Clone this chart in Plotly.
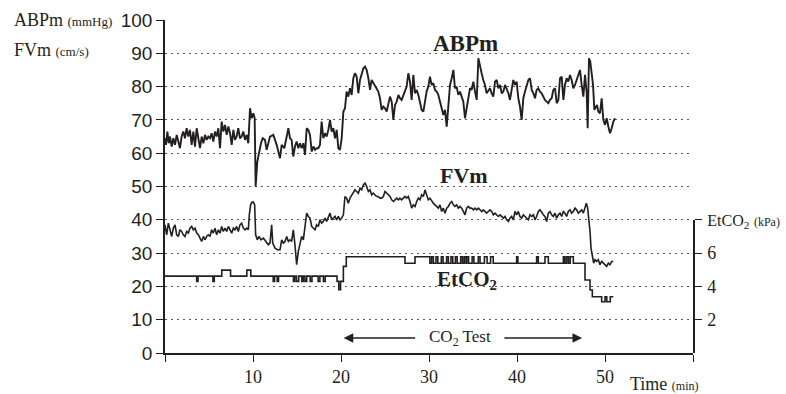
import plotly.graph_objects as go

# ---------------- data ----------------
abp_t = [0, 0.11, 0.27, 0.42, 0.57, 0.76, 0.95, 1.14, 1.33, 1.52, 1.70, 1.89, 2.08, 2.27, 2.46, 2.65, 2.84,
         3.03, 3.22, 3.41, 3.60, 3.79, 3.98, 4.17, 4.36, 4.55, 4.73, 4.92, 5.11, 5.30, 5.49, 5.68, 5.87,
         6.06, 6.25, 6.44, 6.63, 6.82, 7.01, 7.20, 7.39, 7.58, 7.77, 7.95, 8.14, 8.33, 8.52, 8.71, 8.90,
         9.09, 9.28, 9.47, 9.66, 9.85, 10.04, 10.19, 10.30, 10.49, 10.68, 10.91, 11.10, 11.36, 11.55,
         11.93, 12.31, 12.69, 13.07, 13.26, 13.56, 13.83, 14.02, 14.20, 14.39, 14.58, 14.77, 14.96, 15.15,
         15.34, 15.53, 15.72, 15.91, 16.10, 16.29, 16.48, 16.67, 16.86, 17.05, 17.23, 17.42, 17.61, 17.80,
         17.99, 18.18, 18.37, 18.56, 18.75, 18.94, 19.13, 19.32, 19.51, 19.70, 19.89, 20.08, 20.27, 20.45,
         20.64, 20.83, 21.02, 21.21, 21.40, 21.59, 21.78, 21.97, 22.16, 22.35, 22.54, 22.73, 22.92, 23.11,
         23.30, 23.48, 23.67, 23.86, 24.05, 24.24, 24.43, 24.62, 24.81, 25.00, 25.19, 25.38, 25.57, 25.76,
         25.95, 26.14, 26.33, 26.52, 26.70, 26.89, 27.08, 27.27, 27.46, 27.65, 27.84, 28.03, 28.22, 28.41,
         28.60, 28.79, 28.98, 29.17, 29.36, 29.55, 29.73, 29.92, 30.11, 30.30, 30.49, 30.68, 30.87, 31.06,
         31.25, 31.44, 31.63, 31.82, 32.01, 32.20, 32.39, 32.58, 32.77, 32.95, 33.14, 33.33, 33.52, 33.71,
         33.90, 34.09, 34.28, 34.47, 34.66, 34.85, 35.04, 35.23, 35.42, 35.61, 35.80, 35.98, 36.17, 36.36,
         36.55, 36.74, 36.93, 37.12, 37.31, 37.50, 37.69, 37.88, 38.07, 38.26, 38.45, 38.64, 38.83, 39.02,
         39.20, 39.39, 39.58, 39.77, 39.96, 40.15, 40.34, 40.53, 40.72, 40.91, 41.10, 41.29, 41.48, 41.67,
         41.86, 42.05, 42.23, 42.42, 42.61, 42.80, 42.99, 43.18, 43.37, 43.56, 43.75, 43.94, 44.13, 44.32,
         44.51, 44.70, 44.89, 45.08, 45.27, 45.45, 45.64, 45.83, 46.02, 46.21, 46.40, 46.59, 46.78, 46.97,
         47.16, 47.35, 47.54, 47.73, 47.92, 48.03, 48.18, 48.33, 48.48, 48.64, 48.79, 48.94, 49.09, 49.24,
         49.43, 49.62, 49.81, 50.00, 50.19, 50.38, 50.57, 50.76, 50.95, 51.14]
abp_v = [64.5, 62.5, 66.5, 63, 65, 62, 64.5, 62.5, 65.5, 63.5, 61.5, 65, 66.5, 64.5, 67.5, 65, 67,
         62.5, 66.5, 62, 67.5, 64.5, 61.5, 65, 63, 65.5, 64, 65, 64.5, 66, 63.5, 66.5, 65,
         67.5, 61.5, 69.5, 66.5, 68.5, 65.5, 68, 66, 62.5, 67, 64, 65, 67.5, 64.5, 65, 66.5,
         64, 65.5, 63, 73.5, 70.5, 72, 70.5, 50, 57.5, 60.5, 63, 64.5, 64, 61,
         65, 65.5, 62.5, 58.5, 62.5, 61.5, 64.5, 67.5, 64.5, 64, 59, 62, 63.5, 61.5,
         63, 61.5, 63, 59.5, 67.5, 67, 65.5, 60.5, 62, 61, 61.5, 61.5, 62.5, 69.5,
         64.5, 66, 65, 67, 70, 66.5, 67.5, 64.5, 67, 61.5, 61, 64.5, 72.5, 73.5,
         78.5, 77, 79.5, 77.5, 82.5, 84, 83, 78, 82, 83.5, 85.5, 86, 85, 82.5,
         79, 82, 81, 80.5, 79.5, 78.5, 76.5, 73, 74, 73.5, 72.5, 74.5, 77, 75.5,
         70, 74.5, 75.5, 77.5, 76.5, 76, 77.5, 79, 80, 84, 81.5, 76, 83.5, 78,
         79, 77.5, 75, 73, 72.5, 75.5, 78.5, 80, 83, 80.5, 81, 79, 78.5, 77.5,
         75, 73.5, 71.5, 73, 68, 75.5, 80.5, 82.5, 85, 79.5, 80, 77.5, 78.5, 77,
         75.5, 70.5, 74, 77.5, 79.5, 79, 81.5, 78.5, 76, 88.5, 85.5, 84, 82, 80.5,
         78, 79, 79.5, 78, 77, 81.5, 82, 79.5, 80.5, 78, 78.5, 80.5, 79.5, 78,
         76, 78.5, 82, 80.5, 81.5, 76.5, 74, 70, 76.5, 78.5, 80.5, 82, 82.5, 79,
         78, 76.5, 79, 79.5, 78.5, 78, 77, 76, 75.5, 75, 76, 76.5, 79, 79.5,
         75, 76, 82.5, 83, 76, 80.5, 82.5, 81.5, 83.5, 82, 79.5, 80.5, 82, 83.5,
         85, 80.5, 77, 83.5, 78, 67.5, 88.5, 87.5, 84.5, 80.5, 73, 74, 74.5, 72.5,
         72, 76.5, 70, 68.5, 70.5, 68, 66, 67.5, 69.5, 70.5]

fv_t = [0, 0.19, 0.38, 0.57, 0.76, 0.95, 1.14, 1.33, 1.52, 1.70, 1.89, 2.08, 2.27, 2.46, 2.65, 2.84,
        3.03, 3.22, 3.41, 3.60, 3.79, 3.98, 4.17, 4.36, 4.55, 4.73, 4.92, 5.11, 5.30, 5.49, 5.68, 5.87,
        6.06, 6.25, 6.44, 6.63, 6.82, 7.01, 7.20, 7.39, 7.58, 7.77, 7.95, 8.14, 8.33, 8.52, 8.71, 8.90,
        9.09, 9.28, 9.47, 9.58, 9.73, 9.88, 10.04, 10.19, 10.30, 10.49, 10.68, 10.91, 11.17, 11.48, 11.74,
        11.93, 12.12, 12.24, 12.50, 12.77, 13.07, 13.26, 13.45, 13.64, 13.83, 14.02, 14.20, 14.39, 14.58,
        14.77, 14.96, 15.15, 15.34, 15.53, 15.72, 15.91, 16.10, 16.29, 16.48, 16.67, 16.86, 17.05, 17.23,
        17.42, 17.61, 17.80, 17.99, 18.18, 18.37, 18.56, 18.75, 18.94, 19.13, 19.32, 19.51, 19.70, 19.89,
        20.08, 20.27, 20.45, 20.64, 20.83, 21.02, 21.21, 21.40, 21.59, 21.78, 21.97, 22.16, 22.35, 22.54,
        22.73, 22.92, 23.11, 23.30, 23.48, 23.67, 23.86, 24.05, 24.24, 24.43, 24.62, 24.81, 25.00, 25.19,
        25.38, 25.57, 25.76, 25.95, 26.14, 26.33, 26.52, 26.70, 26.89, 27.08, 27.27, 27.46, 27.65, 27.84,
        28.03, 28.22, 28.41, 28.60, 28.79, 28.98, 29.17, 29.36, 29.55, 29.73, 29.92, 30.11, 30.30, 30.49,
        30.68, 30.87, 31.06, 31.25, 31.44, 31.63, 31.82, 32.01, 32.20, 32.39, 32.58, 32.77, 32.95, 33.14,
        33.33, 33.52, 33.71, 33.90, 34.09, 34.28, 34.47, 34.66, 34.85, 35.04, 35.23, 35.42, 35.61, 35.80,
        35.98, 36.17, 36.36, 36.55, 36.74, 36.93, 37.12, 37.31, 37.50, 37.69, 37.88, 38.07, 38.26, 38.45,
        38.64, 38.83, 39.02, 39.20, 39.39, 39.58, 39.77, 39.96, 40.15, 40.34, 40.53, 40.72, 40.91, 41.10,
        41.29, 41.48, 41.67, 41.86, 42.05, 42.23, 42.42, 42.61, 42.80, 42.99, 43.18, 43.37, 43.56, 43.75,
        43.94, 44.13, 44.32, 44.51, 44.70, 44.89, 45.08, 45.27, 45.45, 45.64, 45.83, 46.02, 46.21, 46.40,
        46.59, 46.78, 46.97, 47.16, 47.35, 47.54, 47.73, 47.88, 48.03, 48.18, 48.30, 48.41, 48.56, 48.71,
        48.86, 49.05, 49.24, 49.43, 49.62, 49.81, 50.00, 50.19, 50.38, 50.57, 50.76, 50.95]
fv_v = [38.5, 35.5, 39, 37, 35, 37.5, 38.5, 35.5, 35, 37, 36.5, 35.5, 35, 36.5, 36, 37.5,
        38, 37, 37.5, 36, 35.5, 34.5, 33.5, 35, 34, 35, 35.5, 35, 37, 36, 37.5, 35.5,
        37, 36, 38, 36.5, 37.5, 36.5, 38, 37, 36, 37.5, 37, 38, 36.5, 38.5, 39, 37.5,
        37, 37.5, 37, 41.5, 44.5, 45.3, 45.3, 44.5, 35.5, 34, 35, 34, 34.5, 33.5, 32.5,
        33, 38.5, 33, 31.5, 31, 31, 34, 33, 33.5, 35, 33.5, 34, 33.5, 37,
        32.5, 26.5, 30.5, 33, 35, 34, 37.5, 42, 41, 40.5, 38, 37.5, 37, 38.5,
        38, 40, 39, 39.5, 40.5, 39.5, 41, 42, 40, 40.5, 41, 40, 41, 40,
        40.5, 41.5, 47, 46.5, 45, 46.5, 47.5, 48, 49, 48.5, 48, 49.5, 49, 50.5,
        51, 50, 48.5, 49, 47.5, 48, 47.5, 47, 47, 46.5, 46.5, 47, 48.5, 48,
        47.5, 47, 46, 45.5, 46, 46.5, 46, 46.5, 46, 46.5, 47, 46.5, 47, 45.5,
        43.5, 44.5, 44, 45.5, 46.5, 46, 47.5, 47, 49, 47.5, 46, 46.5, 45.5, 45,
        44.5, 44, 43.5, 44.5, 42.5, 43.5, 42, 43.5, 44, 45, 45.5, 44.5, 44, 44.5,
        43.5, 44, 43.5, 42.5, 41.5, 43.5, 44, 43.5, 43.5, 43, 43.5, 43, 43.5, 43,
        42.5, 43, 42.5, 42, 42.5, 43, 42.5, 41.5, 42, 41.5, 41, 41.5, 41, 40.5,
        41, 40, 39.5, 40.5, 41, 40, 42.5, 41.5, 42.5, 41, 40.5, 41.5, 41, 40.5,
        40, 41.5, 41, 41.5, 40, 41, 42.5, 43, 42, 41.5, 41, 39.5, 42, 42.5,
        41.5, 41, 42, 40.5, 41.5, 42, 41, 42.5, 42, 41, 42.5, 43, 42, 42.5,
        43.5, 43, 42, 42.5, 43, 42, 43.5, 45, 43.5, 40.5, 36.5, 31.5, 28.5, 27,
        28, 27.5, 28, 26.5, 27.5, 27, 26.5, 26, 27, 26.5, 27.5, 27.5]

# EtCO2 (kPa), step changes
et_t = [0, 3.60, 3.75, 5.45, 5.60, 6.45, 7.45, 9.30, 9.75, 12.30, 12.45, 12.75, 12.90,
        14.60, 14.75, 14.95, 15.20, 15.55, 15.70, 15.90, 16.10, 16.50, 16.70, 17.40, 17.60,
        18.00, 18.20, 19.55, 19.75, 19.95, 20.27, 20.60, 27.27, 28.41,
        30.10, 30.30, 30.50, 30.80, 31.00, 31.40, 31.60, 32.00, 32.20, 32.50, 32.70, 33.00,
        33.20, 33.60, 33.80, 34.00, 34.20, 34.30, 34.50, 34.90, 35.10, 35.60, 35.80, 36.30,
        36.60, 37.00, 37.30, 39.96, 40.10, 42.23, 42.42, 43.18, 43.56, 45.27, 45.45, 45.65,
        45.85, 46.05, 46.40, 47.73, 48.30, 48.56, 49.62, 50.00, 50.20, 50.60, 50.95]
et_v = [4.62, 4.3, 4.62, 4.3, 4.62, 4.98, 4.62, 4.98, 4.62, 4.3, 4.62, 4.3, 4.62,
        4.3, 4.62, 4.3, 4.62, 4.3, 4.62, 4.3, 4.62, 4.3, 4.62, 4.3, 4.62,
        4.3, 4.62, 4.3, 3.8, 4.3, 5.2, 5.78, 5.39, 5.78,
        5.39, 5.78, 5.39, 5.78, 5.39, 5.78, 5.39, 5.78, 5.39, 5.78, 5.39, 5.78,
        5.39, 5.78, 5.39, 5.78, 5.39, 5.78, 5.39, 5.78, 5.39, 5.78, 5.39, 5.78,
        5.39, 5.78, 5.39, 5.78, 5.39, 5.78, 5.39, 5.78, 5.39, 5.78, 5.39, 5.78,
        5.39, 5.78, 5.39, 4.38, 3.78, 3.38, 3.08, 3.38, 3.08, 3.38, 3.38]

left_ticks = [0, 10, 20, 30, 40, 50, 60, 70, 80, 90, 100]
grid_ticks = [10, 20, 30, 40, 50, 60, 70, 80, 90]
x_ticks = [10, 20, 30, 40, 50]
x_edge_ticks = [0, 60]
right_ticks = [2, 4, 6, 8]
right_labels = ["2", "4", "6",
                "<span style='font-size:16px'>EtCO<sub>2</sub></span> <span style='font-size:12px'>(kPa)</span>"]

# ---------------- figure ----------------
INK = "#231f20"
SERIF = "Liberation Serif"
SANS = "Liberation Sans"

fig = go.Figure()
fig.add_trace(go.Scatter(x=fv_t, y=fv_v, mode="lines", yaxis="y",
                         line=dict(color=INK, width=1.6), hoverinfo="skip"))
fig.add_trace(go.Scatter(x=abp_t, y=abp_v, mode="lines", yaxis="y",
                         line=dict(color=INK, width=1.9), hoverinfo="skip"))
fig.add_trace(go.Scatter(x=et_t, y=et_v, mode="lines", yaxis="y2", line_shape="hv",
                         line=dict(color=INK, width=1.6), hoverinfo="skip"))

fig.update_layout(
    width=786, height=394,
    margin=dict(l=165, r=93, t=20, b=41),
    paper_bgcolor="white", plot_bgcolor="rgba(0,0,0,0)",
    showlegend=False,
    xaxis=dict(range=[0, 60], tickvals=x_ticks, ticks="outside", automargin=False,
               ticklen=7, tickwidth=1.3, tickcolor=INK, showline=True, linecolor=INK,
               linewidth=1.5, showgrid=False, zeroline=False,
               minor=dict(tickvals=x_edge_ticks, ticks="outside", ticklen=7, tickwidth=1.3,
                          tickcolor=INK, showgrid=False),
               tickfont=dict(family=SERIF, size=18, color=INK)),
    yaxis=dict(range=[0, 100], tickvals=left_ticks, ticks="outside", ticklen=7,
               automargin=False,
               tickwidth=1.3, tickcolor=INK, showline=True, linecolor=INK, linewidth=1.5,
               showgrid=False, zeroline=False,
               minor=dict(tickvals=grid_ticks, ticks="", showgrid=True, gridcolor="#555555",
                          gridwidth=1, griddash="2px,4px"),
               tickfont=dict(family=SANS, size=19, color=INK)),
    yaxis2=dict(domain=[0, 0.4], range=[0, 8], anchor="x", side="right", automargin=False,
                tickvals=right_ticks, ticktext=right_labels, ticks="outside", ticklen=7,
                tickwidth=1.3, tickcolor=INK, showline=True, linecolor=INK, linewidth=1.5,
                showgrid=False, zeroline=False, ticklabelstandoff=2,
                tickfont=dict(family=SERIF, size=18, color=INK)),
)

anns = [
    dict(xref="paper", yref="paper", x=-0.29, y=1.0, xanchor="left", yanchor="middle",
         text="ABPm <span style='font-size:13px'>(mmHg)</span>",
         font=dict(family=SERIF, size=18, color=INK), showarrow=False),
    dict(xref="paper", yref="paper", x=-0.29, y=0.91, xanchor="left", yanchor="middle",
         text="FVm <span style='font-size:13px'>(cm/s)</span>",
         font=dict(family=SERIF, size=18, color=INK), showarrow=False),
    dict(xref="x", yref="y", x=34.2, y=92.8, text="<b>ABPm</b>", showarrow=False,
         font=dict(family=SERIF, size=23, color=INK)),
    dict(xref="x", yref="y", x=34.0, y=53.2, text="<b>FVm</b>", showarrow=False,
         font=dict(family=SERIF, size=22, color=INK)),
    dict(xref="x", yref="y", x=34.3, y=22.0, text="<b>EtCO<sub>2</sub></b>", showarrow=False,
         font=dict(family=SERIF, size=21, color=INK)),
    dict(xref="x", yref="y", x=33.5, y=4.5, text="CO<sub>2</sub> Test", showarrow=False,
         font=dict(family=SERIF, size=17, color=INK)),
    dict(xref="x", yref="y", x=20.3, y=4.5, ax=28.6, ay=4.5, axref="x", ayref="y",
         text="", showarrow=True, arrowhead=2, arrowsize=1.2, arrowwidth=1.6, arrowcolor=INK),
    dict(xref="x", yref="y", x=47.4, y=4.5, ax=38.4, ay=4.5, axref="x", ayref="y",
         text="", showarrow=True, arrowhead=2, arrowsize=1.2, arrowwidth=1.6, arrowcolor=INK),
    dict(xref="paper", yref="paper", x=0.877, y=-0.092, xanchor="left", yanchor="middle",
         text="Time <span style='font-size:12px'>(min)</span>",
         font=dict(family=SERIF, size=18, color=INK), showarrow=False),
]
fig.update_layout(annotations=anns)

fig.write_html("out.html")
